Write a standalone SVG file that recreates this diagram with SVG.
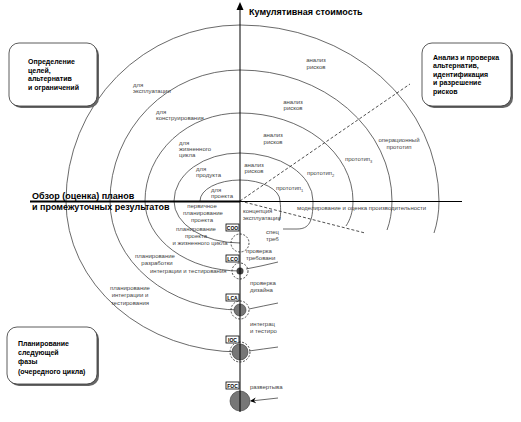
<svg xmlns="http://www.w3.org/2000/svg" width="521" height="422" viewBox="0 0 521 422">
<defs>
<style>
.arc{fill:none;stroke:#444;stroke-width:0.8}
.ax{fill:none;stroke:#000;stroke-width:1}
.dash{fill:none;stroke:#222;stroke-width:0.8;stroke-dasharray:3,2}
.dc{fill:none;stroke:#222;stroke-width:0.8;stroke-dasharray:2,1.5}
.lb{font-family:"Liberation Sans",Arial,sans-serif;font-size:6px;fill:#444}
.lbm{font-family:"Liberation Sans",Arial,sans-serif;font-size:6px;fill:#444;text-anchor:middle}
.bx{font-family:"Liberation Sans",Arial,sans-serif;font-size:7px;font-weight:bold;fill:#000}
.big{font-family:"Liberation Sans",Arial,sans-serif;font-size:9px;font-weight:bold;fill:#000}
.ms{font-family:"Liberation Sans",Arial,sans-serif;font-size:5px;font-weight:bold;fill:#000;text-anchor:middle}
.msb{fill:#fff;stroke:#000;stroke-width:0.8}
.box{fill:#fff;stroke:#333;stroke-width:0.8}
.shd{fill:#666}
</style>
<marker id="ah" markerWidth="6" markerHeight="6" refX="5" refY="3" orient="auto" markerUnits="userSpaceOnUse">
<path d="M0,0 L6,3 L0,6 L2,3 Z" fill="#000"/>
</marker>
</defs>
<rect width="521" height="422" fill="#fff"/>

<g id="connectors">
<path class="arc" d="M200,201 A40,21 0 0 1 240,180 A40,21 0 0 1 280,201"/>
<path class="arc" d="M174,201 A66,48 0 0 1 240,153 A73,48 0 0 1 313,201"/>
<path class="arc" d="M145,201 A95,88 0 0 1 240,113 A113,88 0 0 1 353,201"/>
<path class="arc" d="M110,201 A130,131 0 0 1 240,70 A152,131 0 0 1 392,201"/>
<path class="arc" d="M66,201 A174,176 0 0 1 240,25 A199,176 0 0 1 439,201"/>
<path class="arc" d="M240,243 A66,42 0 0 1 174,201"/>
<path class="arc" d="M240,271 A95,70 0 0 1 145,201"/>
<path class="arc" d="M240,310 A130,109 0 0 1 110,201"/>
<path class="arc" d="M240,352 A174,151 0 0 1 66,201"/>
<path class="arc" d="M280,201 C281,210 281,216 279,221"/>
<path class="arc" d="M313,201 C313,222 309,229 297,229 L283,229"/>
<path class="arc" d="M353,201 C353,212 350,220 346,226"/>
<path class="arc" d="M392,201 C392,212 390,222 387,230"/>
<path class="arc" d="M439,201 C439,213 437,224 434,233"/>
<path class="arc" d="M246,269 Q262,266 278,262"/>
<path class="arc" d="M249,309 Q263,306 278,303"/>
<path class="arc" d="M249,351 Q263,349 278,347"/>
<path class="arc" d="M278,398 L251,401" marker-end="url(#ah)"/>
<path class="dash" d="M240,201 L410,84"/>
<path class="dash" d="M240,201 L365,233"/>
<line class="ax" x1="240" y1="201.5" x2="462" y2="201.5"/>
<line x1="30" y1="201.5" x2="240" y2="201.5" stroke="#000" stroke-width="2"/>
</g>

<g id="milestones">
<circle class="dc" cx="240" cy="243" r="9"/>
<circle cx="240" cy="271" r="3.5" fill="#444"/>
<circle class="dc" cx="240" cy="271" r="8"/>
<circle cx="240" cy="310" r="6" fill="#777" stroke="#333" stroke-width="0.6"/>
<circle class="dc" cx="240" cy="310" r="9"/>
<circle cx="240" cy="352" r="8" fill="#777" stroke="#333" stroke-width="0.6"/>
<circle class="dc" cx="240" cy="352" r="10"/>
<circle cx="240" cy="401" r="10" fill="#777" stroke="#333" stroke-width="0.6"/>
</g>

<g id="axis">
<line class="ax" x1="240" y1="8" x2="240" y2="412"/>
<path d="M236.5,10 L240,2 L243.5,10 Z" fill="#000"/>
<text class="big" x="249" y="15">Кумулятивная стоимость</text>
</g>

<g id="ms-coo"><rect class="msb" x="226" y="224" width="13" height="7"/><text class="ms" x="232.5" y="229.8">COO</text></g>
<g id="ms-lco"><rect class="msb" x="226" y="255" width="13" height="7"/><text class="ms" x="232.5" y="260.8">LCO</text></g>
<g id="ms-lca"><rect class="msb" x="226" y="294" width="13" height="7"/><text class="ms" x="232.5" y="299.8">LCA</text></g>
<g id="ms-ioc"><rect class="msb" x="226" y="336" width="13" height="7"/><text class="ms" x="232.5" y="341.8">IOC</text></g>
<g id="ms-foc"><rect class="msb" x="226" y="382" width="13" height="7"/><text class="ms" x="232.5" y="387.8">FOC</text></g>

<g id="box-goals">
<rect class="shd" x="11" y="45" width="88" height="63" rx="10"/>
<rect class="box" x="9" y="43" width="88" height="63" rx="10"/>
<text class="bx" x="28" y="64">Определение</text>
<text class="bx" x="28" y="72.5">целей,</text>
<text class="bx" x="28" y="81">альтернатив</text>
<text class="bx" x="28" y="89.5">и ограничений</text>
</g>

<g id="box-risk">
<rect class="shd" x="424" y="45" width="89" height="63" rx="10"/>
<rect class="box" x="422" y="43" width="89" height="63" rx="10"/>
<text class="bx" x="433" y="59.5">Анализ и проверка</text>
<text class="bx" x="433" y="68">альтернатив,</text>
<text class="bx" x="433" y="76.5">идентификация</text>
<text class="bx" x="433" y="85">и разрешение</text>
<text class="bx" x="433" y="94">рисков</text>
</g>

<g id="box-plan">
<rect class="shd" x="9" y="329" width="90" height="57" rx="10"/>
<rect class="box" x="7" y="327" width="90" height="57" rx="10"/>
<text class="bx" x="18" y="345.5">Планирование</text>
<text class="bx" x="18" y="355">следующей</text>
<text class="bx" x="18" y="364">фазы</text>
<text class="bx" x="18" y="373.5">(очередного цикла)</text>
</g>

<g id="review">
<text class="big" x="32" y="198.5">Обзор (оценка) планов</text>
<text class="big" x="32" y="209.5">и промежуточных результатов</text>
</g>

<g id="labels-ul">
<text class="lb" x="133" y="87">для</text><text class="lb" x="133" y="93">эксплуатации</text>
<text class="lb" x="156" y="114">для</text><text class="lb" x="156" y="120">конструирования</text>
<text class="lb" x="179" y="145">для</text><text class="lb" x="179" y="151">жизненного</text><text class="lb" x="179" y="157">цикла</text>
<text class="lb" x="196" y="171">для</text><text class="lb" x="196" y="177">продукта</text>
<text class="lb" x="211" y="192">для</text><text class="lb" x="211" y="198">проекта</text>
</g>

<g id="labels-ur">
<text class="lbm" x="254" y="167">анализ</text><text class="lbm" x="254" y="173">рисков</text>
<text class="lbm" x="273" y="137">анализ</text><text class="lbm" x="273" y="144">рисков</text>
<text class="lbm" x="293" y="104">анализ</text><text class="lbm" x="293" y="110">рисков</text>
<text class="lbm" x="316" y="62">анализ</text><text class="lbm" x="316" y="69">рисков</text>
<text class="lb" x="276" y="190">прототип<tspan font-size="4" dy="1.5">1</tspan></text>
<text class="lb" x="307" y="175">прототип<tspan font-size="4" dy="1.5">2</tspan></text>
<text class="lb" x="345" y="161">прототип<tspan font-size="4" dy="1.5">3</tspan></text>
<text class="lbm" x="399" y="142">операционный</text><text class="lbm" x="399" y="149">прототип</text>
<text class="lb" x="297" y="210">моделирование и оценка производительности</text>
</g>

<g id="labels-ll">
<text class="lbm" x="202" y="208">первичное</text><text class="lbm" x="203" y="215">планирование</text><text class="lbm" x="202" y="222">проекта</text>
<text class="lbm" x="196" y="231">планирование</text><text class="lbm" x="196" y="238">проекта</text><text class="lbm" x="200" y="245">и жизненного цикла</text>
<text class="lbm" x="155" y="258">планирование</text><text class="lbm" x="157" y="265">разработки</text><text class="lb" x="150" y="273">интеграции и тестирования</text>
<text class="lbm" x="130" y="290">планирование</text><text class="lbm" x="130" y="297">интеграции и</text><text class="lbm" x="130" y="305">тестирования</text>
</g>

<g id="labels-lr">
<text class="lb" x="243" y="213">концепция</text><text class="lb" x="243" y="220">эксплуатации</text>
<text class="lb" x="266" y="234">спец</text><text class="lb" x="266" y="241">треб</text>
<text class="lb" x="246" y="253">проверка</text><text class="lb" x="246" y="260">требовани</text>
<text class="lb" x="250" y="285">проверка</text><text class="lb" x="250" y="292">дизайна</text>
<text class="lb" x="250" y="326">интеграц</text><text class="lb" x="250" y="333">и тестиро</text>
<text class="lb" x="250" y="389">развертыва</text>
</g>
</svg>
